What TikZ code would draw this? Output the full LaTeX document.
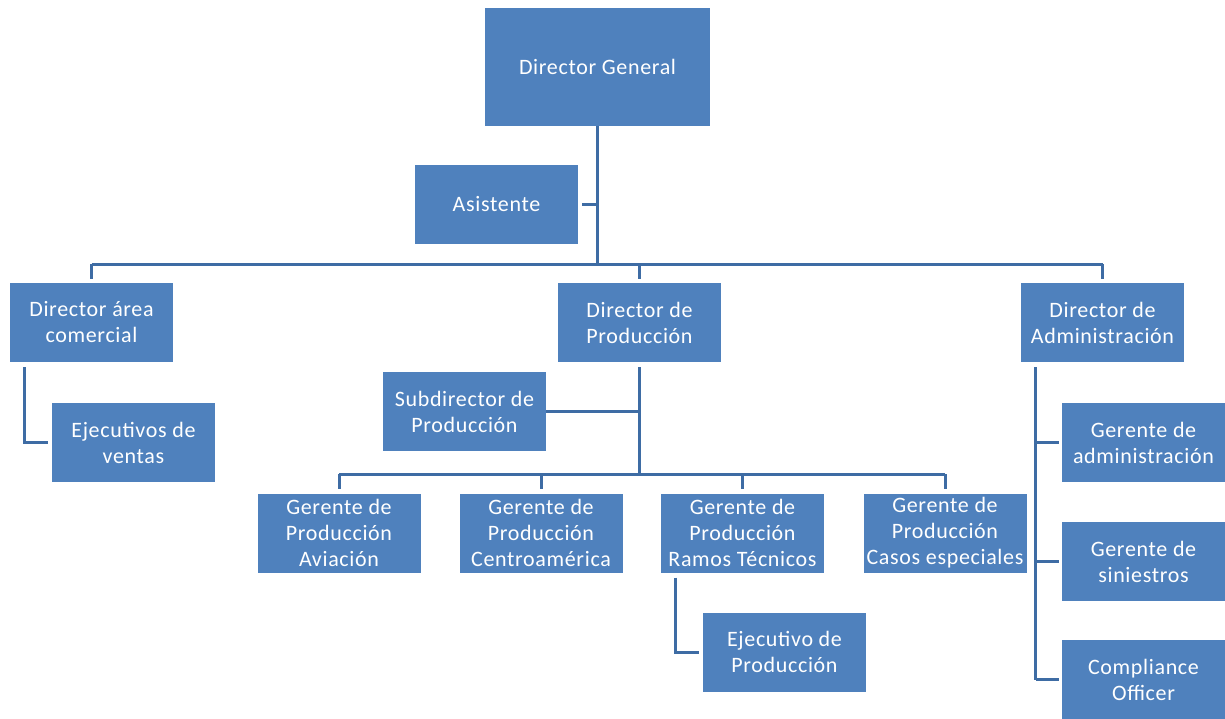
\documentclass[tikz,border=0pt]{standalone}
\usepackage{fontspec}
\setmainfont{Carlito}[LetterSpace=3]
\definecolor{boxfill}{HTML}{4F81BD}
\definecolor{linecol}{HTML}{3E6CA4}
\begin{document}
\begin{tikzpicture}[x=1pt,y=-1pt,
  unit/.style={rectangle, fill=boxfill, text=white, align=center, inner sep=0pt,
    minimum width=163pt, minimum height=79pt,
    font=\fontsize{22pt}{26pt}\selectfont},
  conn/.style={draw=linecol, line width=3pt}]
\useasboundingbox (0,0) rectangle (1225,718);

% top level
\node[unit, minimum width=225pt, minimum height=118pt] (dg) at (597.5,67) {Director General};
\node[unit] (asis) at (496.5,204) {Asistente};

% directors
\node[unit] (dac) at (91.5,322.5) {Director área\\comercial};
\node[unit] (dp)  at (639.5,322.5) {Director de\\Producción};
\node[unit] (dad) at (1102.5,322.5) {Director de\\Administración};

% commercial branch
\node[unit] (ev) at (133.5,442.5) {Ejecutivos de\\ventas};

% production branch
\node[unit] (sub) at (464.5,411.5) {Subdirector de\\Producción};
\node[unit] (g1) at (339,533) {Gerente de\\Producción\\Aviación};
\node[unit] (g2) at (541,533) {Gerente de\\Producción\\Centroamérica};
\node[unit] (g3) at (742.5,533) {Gerente de\\Producción\\Ramos Técnicos};
\node[unit] (g4) at (945,533) {Gerente de\\Producción\\Casos especiales};
\node[unit] (ep) at (784.5,652) {Ejecutivo de\\Producción};

% administration branch
\node[unit] (ga) at (1143.5,442.5) {Gerente de\\administración};
\node[unit] (gs) at (1143.5,561.5) {Gerente de\\siniestros};
\node[unit] (co) at (1143.5,679.5) {Compliance\\Officer};

% junction points
\coordinate (trunk) at (597.5,264);
\coordinate (busL) at (91.5,264);
\coordinate (busR) at (1102.5,264);
\coordinate (pbus) at (639.5,474);
\coordinate (pbusL) at (339,474);
\coordinate (pbusR) at (945,474);
\coordinate (adtop) at ([xshift=15pt,yshift=-5pt]dad.south west);

% connectors from the director general
\draw[conn] (dg) -- (trunk);
\draw[conn, shorten <=4pt] (asis.east) -- (asis.east -| trunk);
\draw[conn] (busL) -- (busR);
\draw[conn, shorten >=4pt] (busL) -- (dac);
\draw[conn, shorten >=4pt] (busL -| dp) -- (dp);
\draw[conn, shorten >=4pt] (busR) -- (dad);

% commercial
\draw[conn, shorten >=4pt] ([xshift=15pt,yshift=-5pt]dac.south west) |- (ev.west);

% production
\draw[conn, shorten <=5pt] (dp) -- (pbus);
\draw[conn] (sub.east) -- (sub.east -| dp);
\draw[conn] (pbusL) -- (pbusR);
\foreach \g in {g1,g2,g3,g4} \draw[conn, shorten >=4pt] (pbus -| \g) -- (\g);
\draw[conn, shorten >=4pt] ([xshift=15pt,yshift=-5pt]g3.south west) |- (ep.west);

% administration
\draw[conn] (adtop) -- (co.west -| adtop);
\foreach \g in {ga,gs,co} \draw[conn, shorten >=3pt] (\g.west -| adtop) -- (\g.west);
\end{tikzpicture}
\end{document}
